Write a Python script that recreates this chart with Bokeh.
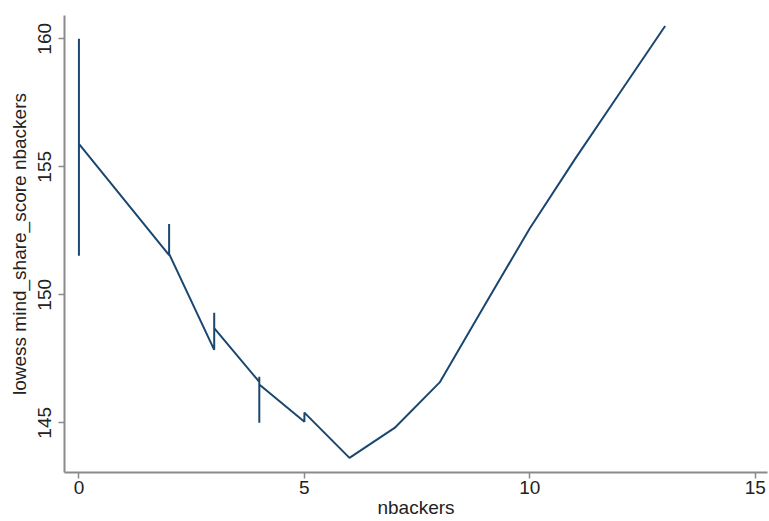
from bokeh.plotting import figure
from bokeh.models import Range1d, FixedTicker
from bokeh.embed import file_html
from bokeh.resources import INLINE

# Lowess smooth of mind_share_score on nbackers (connected in data order)
nbackers = [0, 0, 0, 2, 2, 2, 3, 3, 3, 4, 4, 4, 4, 5, 5, 6, 7, 8, 9, 10, 11, 12, 13]
lowess_score = [151.53, 160.0, 155.9, 151.55, 152.77, 151.6, 147.85, 149.3, 148.7,
                146.6, 146.8, 145.0, 146.5, 145.04, 145.4, 143.63, 144.8, 146.58,
                149.6, 152.6, 155.3, 157.9, 160.5]

x_ticks = [0, 5, 10, 15]
y_ticks = [145, 150, 155, 160]

FONT = "Liberation Sans"
TEXT = "#222222"
AXIS = "#8a8a8a"

p = figure(width=769, height=521, output_backend="svg", toolbar_location=None,
           x_range=Range1d(-0.32, 15.27), y_range=Range1d(143.06, 160.91),
           min_border_left=64, min_border_right=2, min_border_top=15,
           min_border_bottom=49)

p.line(nbackers, lowess_score, line_color="#1a476f", line_width=2)

p.grid.visible = False
p.outline_line_color = None
p.background_fill_color = "white"
p.border_fill_color = "white"

for ax in (p.xaxis[0], p.yaxis[0]):
    ax.axis_line_color = AXIS
    ax.axis_line_width = 2
    ax.major_tick_line_color = AXIS
    ax.major_tick_line_width = 1.5
    ax.major_tick_in = 0
    ax.major_tick_out = 6
    ax.minor_tick_line_color = None
    ax.major_label_text_font = FONT
    ax.major_label_text_font_size = "19px"
    ax.major_label_text_color = TEXT
    ax.major_label_text_line_height = 0.8
    ax.axis_label_text_font = FONT
    ax.axis_label_text_font_size = "19px"
    ax.axis_label_text_font_style = "normal"
    ax.axis_label_text_color = TEXT
    ax.axis_label_text_line_height = 0.8

p.xaxis.ticker = FixedTicker(ticks=x_ticks)
p.yaxis.ticker = FixedTicker(ticks=y_ticks)
p.xaxis.axis_label = "nbackers"
p.yaxis.axis_label = "lowess mind_share_score nbackers"
p.yaxis.major_label_orientation = "vertical"
p.xaxis.major_label_standoff = 2
p.yaxis.major_label_standoff = 7
p.xaxis.axis_label_standoff = 0
p.yaxis.axis_label_standoff = 6

open("out.html", "w").write(file_html(p, INLINE))
